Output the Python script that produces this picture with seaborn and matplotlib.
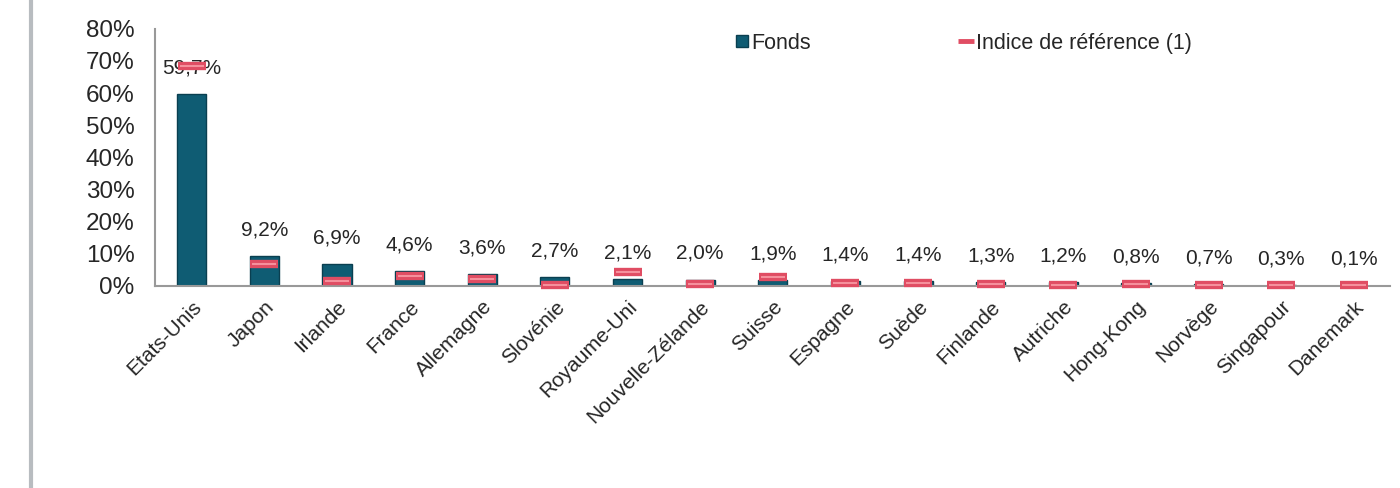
import numpy as np
import pandas as pd
import seaborn as sns
import matplotlib.pyplot as plt
from matplotlib.lines import Line2D

countries = ['Etats-Unis', 'Japon', 'Irlande', 'France', 'Allemagne', 'Slovénie',
             'Royaume-Uni', 'Nouvelle-Zélande', 'Suisse', 'Espagne', 'Suède',
             'Finlande', 'Autriche', 'Hong-Kong', 'Norvège', 'Singapour', 'Danemark']
fonds = [59.7, 9.2, 6.9, 4.6, 3.6, 2.7, 2.1, 2.0, 1.9, 1.4, 1.4, 1.3, 1.2, 0.8, 0.7, 0.3, 0.1]
indice = [68.4, 6.8, 1.6, 3.1, 2.1, 0.2, 4.4, 0.5, 2.8, 1.0, 1.0, 0.5, 0.3, 0.7, 0.2, 0.2, 0.2]
yticks = [0, 10, 20, 30, 40, 50, 60, 70, 80]

bar_color = '#0f5c73'
red_color = '#e04d63'
red_light = '#f5909c'

sns.set_style('white')
plt.rcParams['font.family'] = ['Liberation Sans', 'DejaVu Sans']

df = pd.DataFrame({'pays': countries, 'fonds': fonds, 'indice': indice})

fig = plt.figure(figsize=(14, 4.88), dpi=100)
ax = fig.add_axes([0.111, 0.414, 0.882, 0.527])

sns.barplot(data=df, x='pays', y='fonds', color=bar_color, width=0.4,
            saturation=1, edgecolor='#0a3f50', linewidth=1, ax=ax)

# benchmark dashes: red body with a light highlight
sns.pointplot(data=df, x='pays', y='indice', color=red_color, linestyle='none',
              marker='_', markersize=20, markeredgewidth=6, ax=ax, zorder=4)
sns.pointplot(data=df, x='pays', y='indice', color=red_light, linestyle='none',
              marker='_', markersize=17, markeredgewidth=1.5, ax=ax, zorder=5)
for ln in ax.lines:
    ln.set_clip_on(False)

for i, v in enumerate(fonds):
    ax.annotate(f'{v:.1f}%'.replace('.', ','), (i, v), xytext=(0, 12),
                textcoords='offset points', ha='center', va='bottom', fontsize=15)

ax.set_ylim(0, 80)
ax.set_xlim(-0.5, len(countries) - 0.5)
ax.set_yticks(yticks)
ax.set_yticklabels([f'{t}%' for t in yticks], fontsize=17.5)
ax.set_xticks(range(len(countries)))
ax.set_xticklabels(countries, rotation=45, ha='right', rotation_mode='anchor', fontsize=15)
ax.set_xticks(np.arange(-0.5, len(countries)), minor=True)
ax.tick_params(axis='x', which='major', length=0, pad=8)
ax.tick_params(axis='x', which='minor', length=6, color='#888888', width=1.2, direction='out')
ax.tick_params(axis='y', length=6, color='#888888', width=1.2, direction='out', pad=9)
ax.set_xlabel('')
ax.set_ylabel('')
for s in ['top', 'right']:
    ax.spines[s].set_visible(False)
for s in ['left', 'bottom']:
    ax.spines[s].set_color('#999999')
    ax.spines[s].set_linewidth(1.5)

handles = [
    Line2D([], [], linestyle='none', marker='s', markersize=9, color=bar_color,
           markeredgecolor='#0a3f50'),
    Line2D([], [], linestyle='none', marker='_', markersize=11, markeredgewidth=3.5,
           color=red_color),
]
ax.legend(handles, ['Fonds', 'Indice de référence (1)'], loc='upper left',
          bbox_to_anchor=(0.452, 1.06), ncol=2, frameon=False, fontsize=15.5,
          handletextpad=0.05, columnspacing=6.8, handlelength=0.8)

fig.add_artist(Line2D([0.022, 0.022], [0, 1], color='#b8bcc0', linewidth=3))

fig.savefig('out.png', dpi=100, facecolor='white')
